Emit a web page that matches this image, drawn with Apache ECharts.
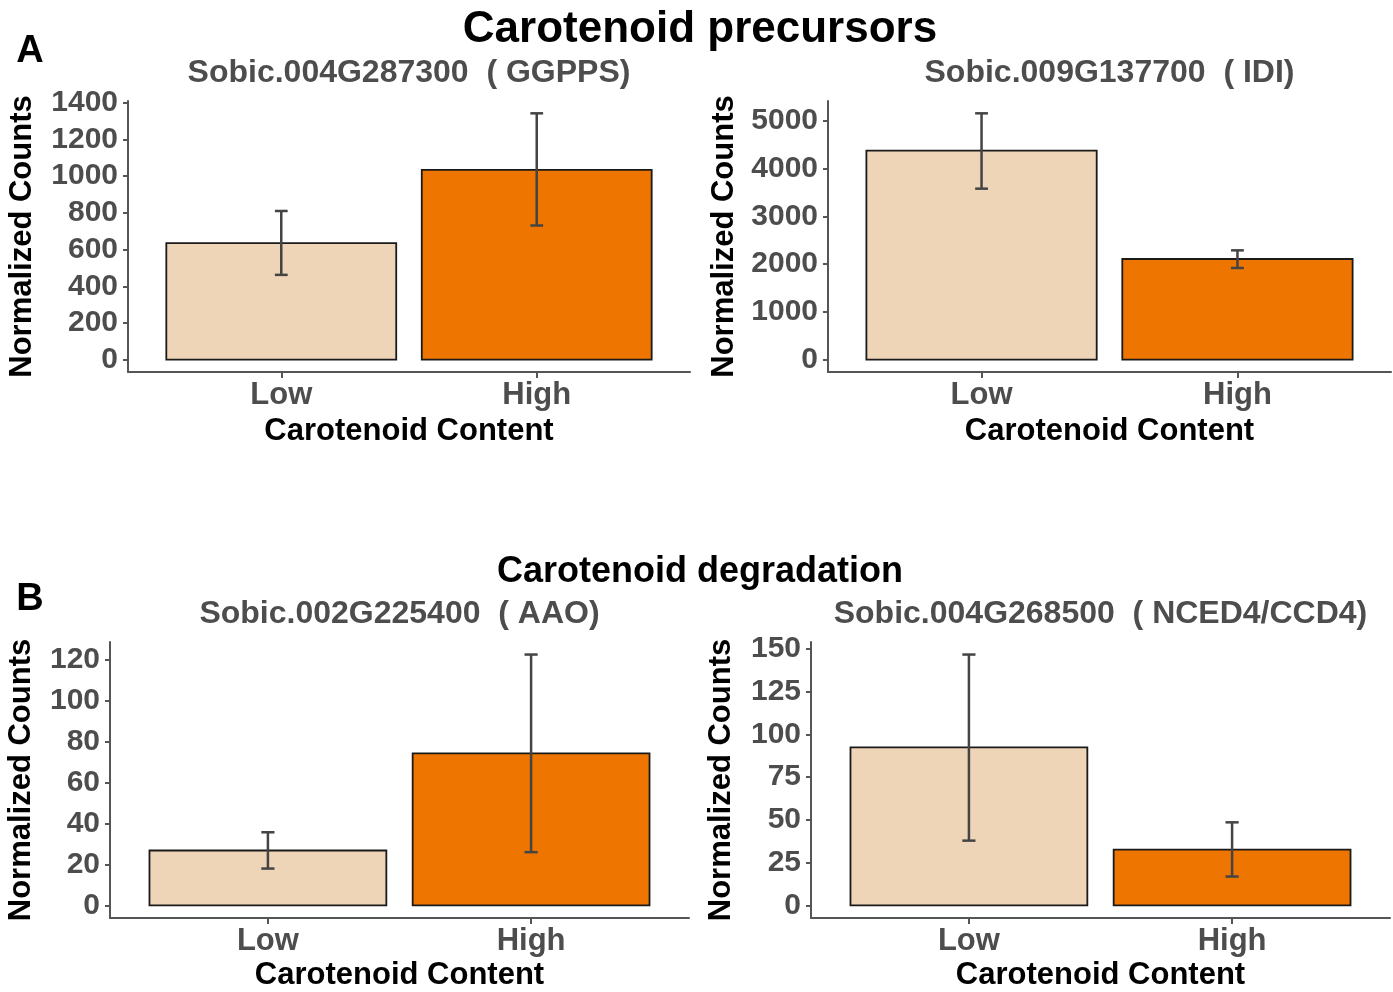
<!DOCTYPE html>
<html>
<head>
<meta charset="utf-8">
<script src="https://cdn.jsdelivr.net/npm/echarts@6/dist/echarts.min.js"></script>
<style>html,body{margin:0;padding:0;background:#fff;}#c{width:1393px;height:992px;}</style>
</head>
<body>
<div id="c"></div>
<script>
const categories = ['Low', 'High'];
const catPos = [1, 2];

const ggppsMean  = [635, 1034];
const ggppsLower = [462, 731];
const ggppsUpper = [810, 1342];
const ggppsTicks = [0, 200, 400, 600, 800, 1000, 1200, 1400];

const idiMean  = [4372, 2106];
const idiLower = [3577, 1918];
const idiUpper = [5153, 2287];
const idiTicks = [0, 1000, 2000, 3000, 4000, 5000];

const aaoMean  = [26.8, 74.2];
const aaoLower = [18.0, 26.0];
const aaoUpper = [35.7, 122.4];
const aaoTicks = [0, 20, 40, 60, 80, 100, 120];

const ncedMean  = [92.4, 32.7];
const ncedLower = [37.9, 16.9];
const ncedUpper = [146.7, 48.6];
const ncedTicks = [0, 25, 50, 75, 100, 125, 150];

const fillColors = ['#EED5B7', '#EE7600'];
const FONT = '"Liberation Sans", Arial, Helvetica, sans-serif';

const panels = [
  {title: 'Sobic.004G287300  ( GGPPS)', mean: ggppsMean, lo: ggppsLower, hi: ggppsUpper, ticks: ggppsTicks,
   grid: {left: 128, top: 101, width: 562, height: 271}, yGap: 90, xGap: 44},
  {title: 'Sobic.009G137700  ( IDI)', mean: idiMean, lo: idiLower, hi: idiUpper, ticks: idiTicks,
   grid: {left: 828, top: 101, width: 563, height: 271}, yGap: 88, xGap: 44},
  {title: 'Sobic.002G225400  ( AAO)', mean: aaoMean, lo: aaoLower, hi: aaoUpper, ticks: aaoTicks,
   grid: {left: 110, top: 642, width: 579, height: 276}, yGap: 73, xGap: 42},
  {title: 'Sobic.004G268500  ( NCED4/CCD4)', mean: ncedMean, lo: ncedLower, hi: ncedUpper, ticks: ncedTicks,
   grid: {left: 811, top: 642, width: 579, height: 276}, yGap: 74, xGap: 42}
];

const grids = [], xAxes = [], yAxes = [], series = [], graphics = [];

panels.forEach((p, i) => {
  grids.push(Object.assign({containLabel: false}, p.grid));
  const ymax = Math.max(...p.hi);
  const pad = ymax * 0.05;
  xAxes.push({
    type: 'value', gridIndex: i, min: 0.4, max: 2.6,
    name: 'Carotenoid Content', nameLocation: 'middle', nameGap: p.xGap,
    nameTextStyle: {fontFamily: FONT, fontWeight: 'bold', fontSize: 31, color: '#000'},
    axisLine: {show: true, onZero: false, lineStyle: {color: '#555', width: 2}},
    axisTick: {show: true, length: 6, lineStyle: {color: '#555', width: 2}, customValues: catPos},
    axisLabel: {show: true, customValues: catPos, margin: 8,
      formatter: v => categories[Math.round(v) - 1],
      fontFamily: FONT, fontWeight: 'bold', fontSize: 31, color: '#4D4D4D'},
    splitLine: {show: false}
  });
  yAxes.push({
    type: 'value', gridIndex: i, min: -pad, max: ymax + pad,
    name: 'Normalized Counts', nameLocation: 'middle', nameGap: p.yGap,
    nameTextStyle: {fontFamily: FONT, fontWeight: 'bold', fontSize: 31, color: '#000'},
    axisLine: {show: true, onZero: false, lineStyle: {color: '#555', width: 2}},
    axisTick: {show: true, length: 5, lineStyle: {color: '#555', width: 2}, customValues: p.ticks},
    axisLabel: {show: true, customValues: p.ticks, margin: 10,
      formatter: v => String(v),
      fontFamily: FONT, fontWeight: 'bold', fontSize: 30, color: '#4D4D4D'},
    splitLine: {show: false}
  });
  series.push({
    type: 'custom', xAxisIndex: i, yAxisIndex: i,
    data: catPos.map((x, k) => [x, p.mean[k], k]),
    renderItem: (params, api) => {
      const x = api.value(0), y = api.value(1), k = api.value(2);
      const a = api.coord([x - 0.45, 0]);
      const b = api.coord([x + 0.45, y]);
      return {type: 'rect', shape: {x: a[0], y: b[1], width: b[0] - a[0], height: a[1] - b[1]},
        style: {fill: fillColors[k], stroke: '#1a1a1a', lineWidth: 1.8}};
    }
  });
  series.push({
    type: 'custom', xAxisIndex: i, yAxisIndex: i, z: 5,
    data: catPos.map((x, k) => [x, p.lo[k], p.hi[k]]),
    renderItem: (params, api) => {
      const x = api.value(0);
      const lo = api.coord([x, api.value(1)]);
      const hi = api.coord([x, api.value(2)]);
      const l = api.coord([x - 0.025, 0])[0];
      const r = api.coord([x + 0.025, 0])[0];
      const st = {stroke: '#444', lineWidth: 2.5};
      return {type: 'group', children: [
        {type: 'line', shape: {x1: lo[0], y1: lo[1], x2: hi[0], y2: hi[1]}, style: st},
        {type: 'line', shape: {x1: l, y1: lo[1], x2: r, y2: lo[1]}, style: st},
        {type: 'line', shape: {x1: l, y1: hi[1], x2: r, y2: hi[1]}, style: st}
      ]};
    }
  });
  const g = p.grid;
  graphics.push({type: 'text', x: g.left + g.width / 2, y: g.top - 28,
    style: {text: p.title, textAlign: 'center', textVerticalAlign: 'middle',
      font: 'bold 32px ' + FONT, fill: '#4D4D4D'}});
});

graphics.push({type: 'text', x: 700, y: 30, style: {text: 'Carotenoid precursors', textAlign: 'center', textVerticalAlign: 'middle', font: 'bold 44px ' + FONT, fill: '#000'}});
graphics.push({type: 'text', x: 700, y: 572, style: {text: 'Carotenoid degradation', textAlign: 'center', textVerticalAlign: 'middle', font: 'bold 36px ' + FONT, fill: '#000'}});
graphics.push({type: 'text', x: 30, y: 52, style: {text: 'A', textAlign: 'center', textVerticalAlign: 'middle', font: 'bold 38px ' + FONT, fill: '#000'}});
graphics.push({type: 'text', x: 30, y: 600, style: {text: 'B', textAlign: 'center', textVerticalAlign: 'middle', font: 'bold 38px ' + FONT, fill: '#000'}});

const chart = echarts.init(document.getElementById('c'), null, {renderer: 'canvas'});
chart.setOption({
  backgroundColor: '#fff',
  animation: false,
  grid: grids, xAxis: xAxes, yAxis: yAxes, series: series,
  graphic: graphics
});
</script>
</body>
</html>
